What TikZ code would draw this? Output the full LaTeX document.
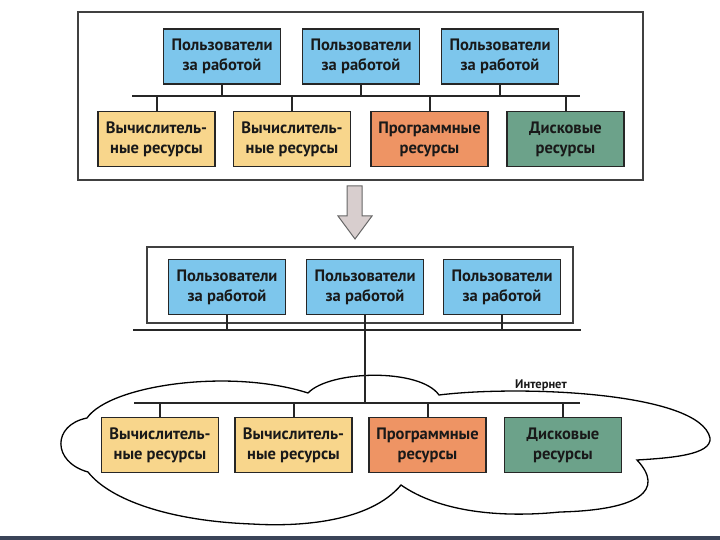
\documentclass[tikz,border=0pt]{standalone}
\usepackage{fontspec}
\setmainfont{PT Sans}
\definecolor{userblue}{RGB}{125,198,236}
\definecolor{compyellow}{RGB}{248,214,140}
\definecolor{progorange}{RGB}{238,148,100}
\definecolor{diskgreen}{RGB}{108,162,138}
\definecolor{arrowgray}{RGB}{216,206,206}
\definecolor{slidebar}{RGB}{58,68,88}
\begin{document}
\begin{tikzpicture}[x=1pt,y=-1pt,
  box/.style={draw=black!85,line width=1.6pt,minimum width=117pt,minimum height=55pt,
    inner sep=1pt,align=center,text=black!90,font=\fontsize{16.5}{20}\selectfont\bfseries},
  users/.style={box,fill=userblue},
  comp/.style={box,fill=compyellow},
  prog/.style={box,fill=progorange},
  disk/.style={box,fill=diskgreen},
  bus/.style={line width=2pt,black!85},
  frame/.style={draw=black!75,line width=1.3pt}]
\useasboundingbox (0,0) rectangle (720,540);

% before
\draw [frame] (78,12) rectangle (643,180);
\node [users] (tu1) at (222,56.5) {Пользователи\\за работой};
\node [users] (tu2) at (361,56.5) {Пользователи\\за работой};
\node [users] (tu3) at (500,56.5) {Пользователи\\за работой};
\coordinate (tbusL) at (132,96);
\coordinate (tbusR) at (580,96);
\node [comp] (tr1) at (156.5,139) {Вычислитель-\\ные ресурсы};
\node [comp] (tr2) at (292,139) {Вычислитель-\\ные ресурсы};
\node [prog] (tr3) at (429.5,139) {Программные\\ресурсы};
\node [disk] (tr4) at (565.5,139) {Дисковые\\ресурсы};
\draw [bus] (tbusL) -- (tbusR);
\foreach \n in {tu1,tu2,tu3} \draw [bus] (\n.south) -- (\n.south |- tbusL);
\foreach \n in {tr1,tr2,tr3,tr4} \draw [bus] (\n.north |- tbusL) -- (\n.north);

% arrow
\draw [black!60,line width=1pt,fill=arrowgray]
  (347,186) -- (362,186) -- (362,216) -- (372,216) -- (355,239) -- (338,216) -- (347,216) -- cycle;

% after
\draw [frame] (147,247) rectangle (573,323);
\node [users] (bu1) at (227,287) {Пользователи\\за работой};
\node [users] (bu2) at (365,287) {Пользователи\\за работой};
\node [users] (bu3) at (502,287) {Пользователи\\за работой};
\coordinate (bbusL) at (133,330);
\coordinate (bbusR) at (581,330);
\draw [bus] (bbusL) -- (bbusR);
\foreach \n in {bu1,bu2,bu3} \draw [bus] (\n.south) -- (\n.south |- bbusL);

\draw [black,line width=1.3pt]
  (87,418) .. controls (110,385) and (230,368) .. (308,393)
  .. controls (330,370) and (420,368) .. (439,395)
  .. controls (520,385) and (700,392) .. (710,438)
  .. controls (712,455) and (670,458) .. (637,460)
  .. controls (665,490) and (640,510) .. (560,512)
  .. controls (500,518) and (440,512) .. (401,485)
  .. controls (370,522) and (300,527) .. (252,524)
  .. controls (170,521) and (110,500) .. (88,472)
  .. controls (52,462) and (52,425) .. (87,418) -- cycle;
\node [anchor=south,inner sep=1pt,text=black!90,font=\fontsize{12.5}{14}\selectfont\bfseries] (inet) at (541,392) {Интернет};

\coordinate (lbusL) at (134,403);
\coordinate (lbusR) at (580,403);
\node [comp] (br1) at (160,445) {Вычислитель-\\ные ресурсы};
\node [comp] (br2) at (293.5,445) {Вычислитель-\\ные ресурсы};
\node [prog] (br3) at (427.5,445) {Программные\\ресурсы};
\node [disk] (br4) at (563,445) {Дисковые\\ресурсы};
\draw [bus] (lbusL) -- (lbusR);
\draw [bus] (bu2.south |- bbusL) -- (bu2.south |- lbusL);
\foreach \n in {br1,br2,br3,br4} \draw [bus] (\n.north |- lbusL) -- (\n.north);

\fill [slidebar] (0,536) rectangle (720,540);
\end{tikzpicture}
\end{document}
